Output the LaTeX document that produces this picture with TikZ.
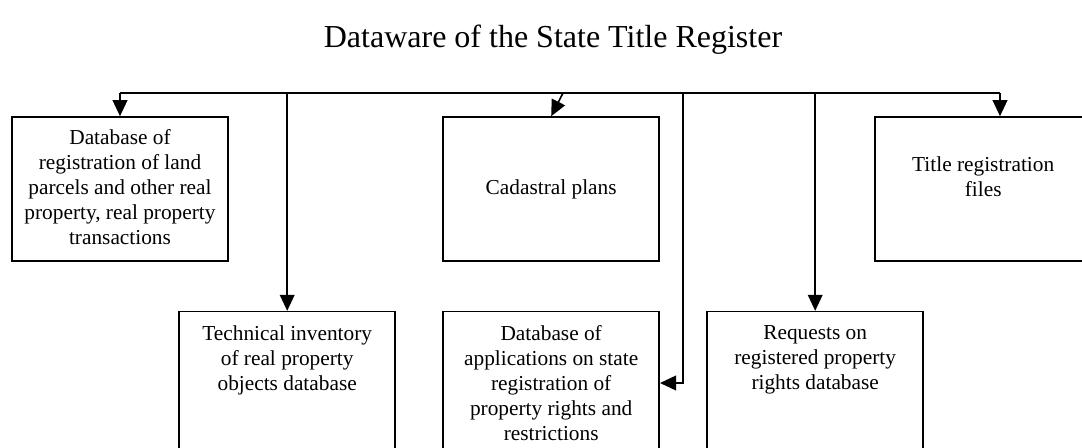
\documentclass[tikz,border=0pt]{standalone}
\usepackage{fontspec}
\setmainfont{Liberation Serif}
\usepackage{tikz}
\usetikzlibrary{positioning}
\usetikzlibrary{arrows.meta}

\tikzset{
  box/.style={draw, line width=1.2pt, rectangle, minimum width=162pt, minimum height=108pt, inner sep=0pt},
  tallbox/.style={box, minimum height=140pt},
  txt/.style={align=center, inner sep=0pt, font=\fontsize{16pt}{18.75pt}\selectfont},
  heading/.style={inner sep=0pt, font=\fontsize{24pt}{28pt}\selectfont},
  link/.style={line width=1.2pt},
  arr/.style={link, -{Triangle[length=12pt,width=11pt]}},
}

\begin{document}
\begin{tikzpicture}[x=0.75pt, y=-0.75pt]
\useasboundingbox (0,0) rectangle (1082,447);
\clip (0,0) rectangle (1082,447);

\node[heading] (head) at (553,40) {Dataware of the State Title Register};

% upper row
\node[box] (b1) at (120,189) {};
\node[box, right=160.2pt of b1] (b2) {};
\node[box, right=160.8pt of b2] (b3) {};
% lower row
\node[tallbox, below=36.75pt of b2] (b5) {};
\node[tallbox, left=34.8pt of b5] (b4) {};
\node[tallbox, right=34.8pt of b5] (b6) {};

\node[txt] (t1) at ([yshift=1.5pt]b1.center) {Database of\\registration of land\\parcels and other real\\property, real property\\transactions};
\node[txt] (t2) at (b2) {Cadastral plans};
\node[txt] (t3) at ([yshift=9pt]b3.center) {Title registration\\files};
\node[txt, below=11pt of b4.north] (t4) {Technical inventory\\of real property\\objects database};
\node[txt, below=11pt of b5.north] (t5) {Database of\\applications on state\\registration of\\property rights and\\restrictions};
\node[txt, below=11pt of b6.north] (t6) {Requests on\\registered property\\rights database};

% bus and drops
\coordinate (bus) at (0,93);
\coordinate (d2) at (563,93);
\coordinate (d3) at (1000,93);
\coordinate (d5) at (683,93);
\coordinate (k5) at (683,383);
\draw[link] (b1.north |- bus) -- (d3);
\draw[arr] (b1.north |- bus) -- (b1.north);
\draw[arr] (b4.north |- bus) -- (b4.north);
\draw[arr] (d2) -- (b2.north);
\draw[arr] (b6.north |- bus) -- (b6.north);
\draw[arr] (d3) -- (d3 |- b3.north);
\draw[arr] (d5) -- (k5) -- (k5 -| b5.east);
\end{tikzpicture}
\end{document}
